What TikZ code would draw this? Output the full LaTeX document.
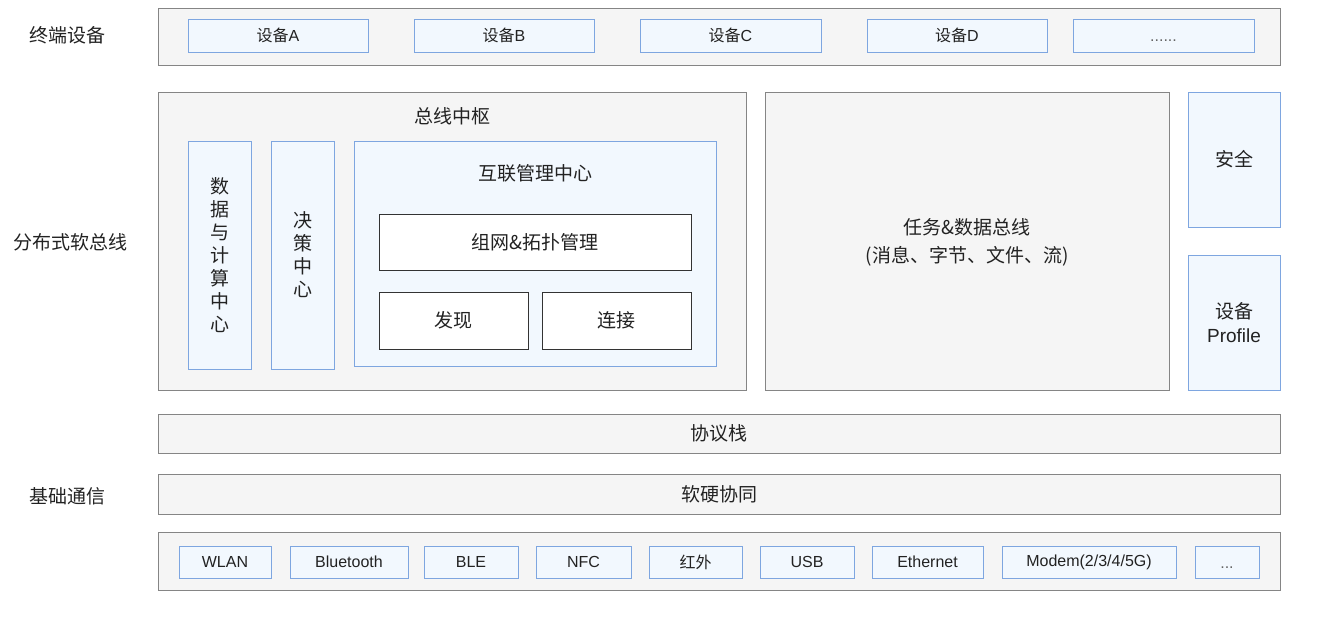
\documentclass[tikz,border=0pt]{standalone}
\usepackage{fontspec}
\setmainfont{Liberation Sans}
\newfontfamily\cjk{Noto Sans CJK SC}
\definecolor{txt}{HTML}{222222}
\definecolor{grayfill}{HTML}{F5F5F5}
\definecolor{grayline}{HTML}{858585}
\definecolor{bluefill}{HTML}{F2F8FE}
\definecolor{blueline}{HTML}{7EA6E0}
\definecolor{darkline}{HTML}{333333}
\begin{document}
\begin{tikzpicture}[x=1pt,y=-1pt,
  base/.style={rectangle,inner sep=0pt,outer sep=0pt,line width=1pt,text=txt},
  graybox/.style={base,draw=grayline,fill=grayfill},
  bluebox/.style={base,draw=blueline,fill=bluefill},
  whitebox/.style={base,draw=darkline,fill=white},
  big/.style={font=\fontsize{19}{24}\selectfont},
  small/.style={font=\fontsize{16}{20}\selectfont},
  lbl/.style={inner sep=0pt,text=txt,big},
  chip/.style={bluebox,small,minimum height=32pt},
  dev/.style={bluebox,small,minimum height=33pt}
]
\useasboundingbox[fill=white] (0,0) rectangle (1317,621);

% ---- left labels
\node[lbl] (l1) at (67,35) {\cjk 终端设备};
\node[lbl] (l2) at (70,242) {\cjk 分布式软总线};
\node[lbl] (l3) at (67,496) {\cjk 基础通信};

% ---- terminal devices
\node[graybox,minimum width=1122pt,minimum height=57pt] (top) at (719,36.5) {};
\node[dev,minimum width=180pt] (devA) at (278,35.5) {{\cjk 设备}A};
\node[dev,minimum width=180pt] (devB) at (504,35.5) {{\cjk 设备}B};
\node[dev,minimum width=181pt] (devC) at (730.5,35.5) {{\cjk 设备}C};
\node[dev,minimum width=180pt] (devD) at (957,35.5) {{\cjk 设备}D};
\node[dev,minimum width=181pt] (devE) at (1163.5,35.5) {\vphantom{\cjk 设备}\textcolor{txt!70}{......}};

% ---- bus hub
\node[graybox,minimum width=588pt,minimum height=298pt] (hub) at (452,241) {};
\node[lbl] (hubt) at (452,116) {\cjk 总线中枢};
\node[bluebox,big,minimum width=63pt,minimum height=228pt,align=center,font=\fontsize{19}{23}\selectfont\cjk] (data) at (219.5,255) {数\\据\\与\\计\\算\\中\\心};
\node[bluebox,big,minimum width=63pt,minimum height=228pt,align=center,font=\fontsize{19}{23}\selectfont\cjk] (dec) at (302.5,255) {决\\策\\中\\心};
\node[bluebox,minimum width=362pt,minimum height=225pt] (imc) at (535,253.5) {};
\node[lbl] (imct) at (535,173) {\cjk 互联管理中心};
\node[whitebox,big,minimum width=312pt,minimum height=56pt] (net) at (535,242) {\cjk 组网\&拓扑管理};
\node[whitebox,big,minimum width=149pt,minimum height=57pt] (disc) at (453.5,320.5) {\cjk 发现};
\node[whitebox,big,minimum width=149pt,minimum height=57pt] (conn) at (616.5,320.5) {\cjk 连接};

% ---- task & data bus
\node[graybox,minimum width=404pt,minimum height=298pt] (task) at (967,241) {};
\node[lbl,align=center,font=\fontsize{19}{28}\selectfont\cjk] (taskt) at (967,242) {任务\&数据总线\\(消息、字节、文件、流)};

% ---- security / profile
\node[bluebox,big,minimum width=92pt,minimum height=135pt] (sec) at (1234,159.5) {\cjk 安全};
\node[bluebox,minimum width=92pt,minimum height=135pt,align=center,font=\fontsize{19}{24}\selectfont] (prof) at (1234,322.5) {{\cjk 设备}\\Profile};

% ---- protocol stack / hw-sw
\node[graybox,big,minimum width=1122pt,minimum height=39pt] (proto) at (719,433.5) {\cjk 协议栈};
\node[graybox,big,minimum width=1122pt,minimum height=40pt] (hw) at (719,494) {\cjk 软硬协同};

% ---- communication channels
\node[graybox,minimum width=1122pt,minimum height=58pt] (comm) at (719,561) {};
\node[chip,minimum width=92pt] (wlan) at (225,562) {WLAN};
\node[chip,minimum width=118pt] (bt) at (349,562) {Bluetooth};
\node[chip,minimum width=94pt] (ble) at (471,562) {BLE};
\node[chip,minimum width=95pt] (nfc) at (583.5,562) {NFC};
\node[chip,minimum width=93pt] (ir) at (695.5,562) {\cjk 红外};
\node[chip,minimum width=94pt] (usb) at (807,562) {USB};
\node[chip,minimum width=111pt] (eth) at (927.5,562) {Ethernet};
\node[chip,minimum width=174pt] (modem) at (1089,562) {Modem(2/3/4/5G)};
\node[chip,minimum width=64pt] (more) at (1227,562) {\vphantom{\cjk 设备}\textcolor{txt!70}{...}};
\end{tikzpicture}
\end{document}
